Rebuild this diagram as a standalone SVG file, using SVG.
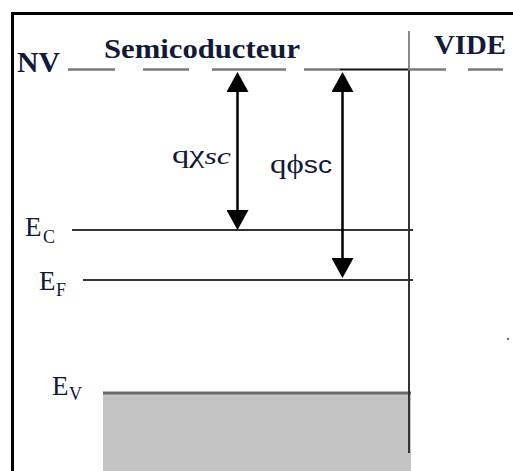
<svg xmlns="http://www.w3.org/2000/svg" width="513" height="471" viewBox="0 0 513 471">
<style>
.t{font-family:"Liberation Serif","Times New Roman",serif;fill:#121a38}
.b{font-weight:bold}
.dash{stroke:#7a7a7a;stroke-width:2.5;fill:none}
.lvl{stroke:#333;stroke-width:2;fill:none}
.arr{stroke:#000;stroke-width:2.5;fill:none;marker-start:url(#ah);marker-end:url(#ah)}
</style>
<defs>
<marker id="ah" markerUnits="userSpaceOnUse" markerWidth="22" markerHeight="22" refX="0" refY="11" orient="auto-start-reverse" viewBox="0 0 20 22">
<path d="M0,0 L20,11 L0,22 z" fill="#000"/>
</marker>
</defs>
<rect width="513" height="471" fill="#fff"/>
<g id="frame">
<path d="M12.5,471 V13.5 H513" fill="none" stroke="#000" stroke-width="3"/>
</g>
<g id="valence-band">
<rect x="103" y="392" width="308" height="79" fill="#c3c3c3"/>
<line x1="103" y1="393" x2="411" y2="393" stroke="#6a6a6a" stroke-width="3"/>
</g>
<g id="interface">
<line x1="409" y1="31" x2="409" y2="70" stroke="#8a8a8a" stroke-width="2"/>
<line x1="409" y1="70" x2="409" y2="453" stroke="#333" stroke-width="2"/>
</g>
<g id="NV">
<text class="t b" x="17" y="72" font-size="29" textLength="43" lengthAdjust="spacingAndGlyphs">NV</text>
<line class="dash" x1="68" y1="69.5" x2="115" y2="69.5"/>
<line class="dash" x1="143" y1="69.5" x2="189" y2="69.5"/>
<line class="dash" x1="212" y1="69.5" x2="286" y2="69.5"/>
<line class="dash" x1="304" y1="69.5" x2="340" y2="69.5"/>
<line x1="340" y1="69.5" x2="408" y2="69.5" stroke="#111" stroke-width="2"/>
<line class="dash" x1="408" y1="69.5" x2="446" y2="69.5"/>
<line class="dash" x1="468" y1="69.5" x2="503" y2="69.5"/>
</g>
<g id="semiconducteur">
<text class="t b" x="104" y="58" font-size="28" textLength="196" lengthAdjust="spacingAndGlyphs">Semicoducteur</text>
</g>
<g id="vide">
<text class="t b" x="434" y="54" font-size="27" textLength="72" lengthAdjust="spacingAndGlyphs">VIDE</text>
</g>
<g id="Ec">
<line class="lvl" x1="72" y1="230" x2="413" y2="230"/>
<text class="t" x="25" y="236" font-size="27">E<tspan x="43" y="243" font-size="18">C</tspan></text>
</g>
<g id="Ef">
<line class="lvl" x1="83" y1="280" x2="413" y2="280"/>
<text class="t" x="39" y="290" font-size="27">E<tspan x="56" y="296" font-size="18">F</tspan></text>
</g>
<g id="Ev">
<text class="t" x="52" y="395" font-size="27">E<tspan x="69" y="400" font-size="18">V</tspan></text>
</g>
<g id="connectors">
<line class="arr" x1="237.5" y1="92" x2="237.5" y2="210"/>
<line class="arr" x1="342.5" y1="92" x2="342.5" y2="258"/>
</g>
<g id="labels">
<text class="t" x="172" y="163" font-size="26" textLength="59" lengthAdjust="spacingAndGlyphs">qχ<tspan font-style="italic" font-size="24" y="164">sc</tspan></text>
<text class="t" x="270" y="173" font-size="28" textLength="62" lengthAdjust="spacingAndGlyphs">qϕ<tspan font-family="Liberation Sans, Arial, sans-serif" font-size="24">sc</tspan></text>
</g>
<circle cx="508" cy="339" r="1" fill="#333"/>
</svg>
